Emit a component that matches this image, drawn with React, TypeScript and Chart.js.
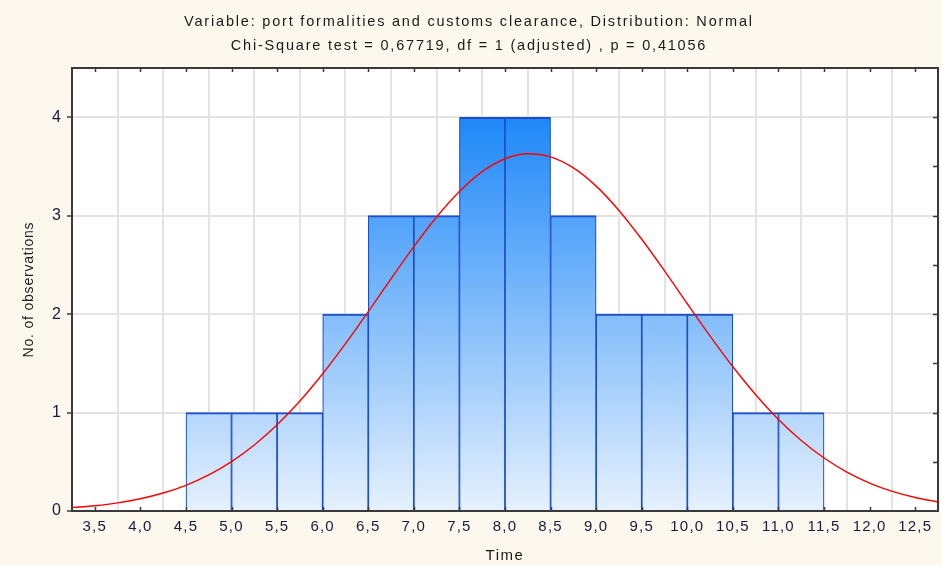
import React, { useEffect, useRef } from 'react';
import { Chart, registerables } from 'chart.js';

Chart.register(...registerables);

const titleLines = [
  'Variable: port formalities and customs clearance, Distribution: Normal',
  'Chi-Square test = 0,67719, df = 1 (adjusted) , p = 0,41056',
];
const xAxisTitle = 'Time';
const yAxisTitle = 'No. of observations';

// histogram bins (width 0.5), centres and observed counts
const binCenters = [4.75, 5.25, 5.75, 6.25, 6.75, 7.25, 7.75, 8.25, 8.75, 9.25, 9.75, 10.25, 10.75, 11.25];
const binCounts = [1, 1, 1, 2, 3, 3, 4, 4, 3, 2, 2, 2, 1, 1];

// fitted normal curve
const curveX = [3.25, 3.5, 3.75, 4.0, 4.25, 4.5, 4.75, 5.0, 5.25, 5.5, 5.75, 6.0, 6.25, 6.5, 6.75, 7.0, 7.25, 7.5, 7.75, 8.0, 8.25, 8.5, 8.75, 9.0, 9.25, 9.5, 9.75, 10.0, 10.25, 10.5, 10.75, 11.0, 11.25, 11.5, 11.75, 12.0, 12.25, 12.5, 12.75];
const curveY = [0.034, 0.054, 0.083, 0.125, 0.183, 0.261, 0.366, 0.501, 0.67, 0.875, 1.117, 1.394, 1.7, 2.026, 2.359, 2.685, 2.986, 3.245, 3.447, 3.578, 3.629, 3.598, 3.485, 3.3, 3.053, 2.76, 2.439, 2.105, 1.777, 1.465, 1.181, 0.93, 0.716, 0.538, 0.396, 0.284, 0.199, 0.137, 0.092];

const xTickValues = [3.5, 4.0, 4.5, 5.0, 5.5, 6.0, 6.5, 7.0, 7.5, 8.0, 8.5, 9.0, 9.5, 10.0, 10.5, 11.0, 11.5, 12.0, 12.5];
const yTickValues = [0, 1, 2, 3, 4];
const rightMinorTicks = [0.5, 1, 1.5, 2, 2.5, 3, 3.5, 4];

const X_MIN = 3.25;
const X_MAX = 12.75;
const Y_MIN = 0;
const Y_MAX = 4.5;

const FONT = "'Liberation Sans', Arial, sans-serif";

const framePlugin = {
  id: 'statFrame',
  beforeDraw(chart: any) {
    const { ctx, chartArea: a } = chart;
    ctx.save();
    ctx.fillStyle = '#fdf8ed';
    ctx.fillRect(0, 0, chart.width, chart.height);
    ctx.fillStyle = '#ffffff';
    ctx.fillRect(a.left, a.top, a.right - a.left, a.bottom - a.top);
    ctx.restore();
    const wrap = (obj: any, name: string, ls: string) => {
      if (!obj || obj['__w_' + name]) return;
      const orig = obj[name];
      obj[name] = function (...args: any[]) {
        ctx.save();
        ctx.letterSpacing = ls;
        orig.apply(this, args);
        ctx.restore();
      };
      obj['__w_' + name] = true;
    };
    wrap(chart.titleBlock, 'draw', '1.8px');
    wrap(chart.scales.x, 'drawLabels', '1.2px');
    wrap(chart.scales.y, 'drawLabels', '1px');
    wrap(chart.scales.x, 'drawTitle', '1.5px');
    wrap(chart.scales.y, 'drawTitle', '0.8px');
  },
  afterDraw(chart: any) {
    const { ctx, chartArea: a, scales } = chart;
    ctx.save();
    ctx.strokeStyle = '#3a3a3a';
    ctx.lineWidth = 1.5;
    ctx.beginPath();
    xTickValues.forEach((v) => {
      const px = Math.round(scales.x.getPixelForValue(v)) + 0.5;
      ctx.moveTo(px, a.top);
      ctx.lineTo(px, a.top + 4);
      ctx.moveTo(px, a.bottom);
      ctx.lineTo(px, a.bottom - 4);
    });
    rightMinorTicks.forEach((v) => {
      const py = Math.round(scales.y.getPixelForValue(v)) + 0.5;
      ctx.moveTo(a.right, py);
      ctx.lineTo(a.right - 5, py);
    });
    ctx.stroke();
    ctx.lineWidth = 2;
    ctx.strokeStyle = '#3a3a3a';
    ctx.strokeRect(a.left, a.top, a.right - a.left, a.bottom - a.top);
    ctx.restore();
  },
};

export default function App() {
  const canvasRef = useRef<HTMLCanvasElement | null>(null);

  useEffect(() => {
    document.body.style.margin = '0';
    const canvas = canvasRef.current;
    if (!canvas) return;

    const barGradient = (context: any) => {
      const chart = context.chart;
      const { chartArea, scales } = chart;
      if (!chartArea || !scales.y) return '#8cc2fa';
      const y4 = scales.y.getPixelForValue(4);
      const y0 = scales.y.getPixelForValue(0);
      const g = chart.ctx.createLinearGradient(0, y4, 0, y0);
      g.addColorStop(0, '#1e88f8');
      g.addColorStop(1, '#e6f1fd');
      return g;
    };

    const chart = new Chart(canvas, {
      type: 'bar',
      data: {
        datasets: [
          {
            type: 'line',
            label: 'Normal',
            data: curveX.map((x, i) => ({ x, y: curveY[i] })),
            borderColor: '#ff0000',
            borderWidth: 1.4,
            pointRadius: 0,
            tension: 0.4,
            cubicInterpolationMode: 'monotone',
            fill: false,
            order: 0,
          } as any,
          {
            type: 'bar',
            label: 'Observations',
            data: binCenters.map((x, i) => ({ x, y: binCounts[i] })),
            backgroundColor: barGradient,
            borderColor: '#1c4fc8',
            borderWidth: { top: 2, left: 1.2, right: 1.2, bottom: 0 },
            borderSkipped: false,
            barPercentage: 1,
            categoryPercentage: 1,
            order: 1,
          } as any,
        ],
      },
      options: {
        responsive: false,
        animation: false,
        devicePixelRatio: 1,
        layout: { padding: { left: 0, right: 3, top: 0, bottom: 0 } },
        plugins: {
          legend: { display: false },
          tooltip: { enabled: false },
          title: {
            display: true,
            text: titleLines,
            color: '#1a1a1a',
            font: { family: FONT, size: 14.5, weight: 'normal', lineHeight: '24px' },
            padding: { top: 10, bottom: 10 },
          },
        },
        scales: {
          x: {
            type: 'linear',
            min: X_MIN,
            max: X_MAX,
            offset: false,
            afterBuildTicks: (scale: any) => {
              scale.ticks = xTickValues.map((v) => ({ value: v }));
            },
            afterFit: (scale: any) => {
              scale.height = 54;
            },
            ticks: {
              autoSkip: false,
              maxRotation: 0,
              padding: 7,
              color: '#1a1a3c',
              font: { family: FONT, size: 15 },
              callback: (v: any) => Number(v).toFixed(1).replace('.', ','),
            },
            grid: {
              color: '#e3e3e3',
              lineWidth: 2,
              drawTicks: false,
            },
            border: { display: false },
            title: {
              display: true,
              text: xAxisTitle,
              color: '#1a1a1a',
              font: { family: FONT, size: 15 },
              padding: { top: 0, bottom: 0 },
            },
          },
          y: {
            type: 'linear',
            min: Y_MIN,
            max: Y_MAX,
            afterBuildTicks: (scale: any) => {
              scale.ticks = yTickValues.map((v) => ({ value: v }));
            },
            afterFit: (scale: any) => {
              scale.width = 72;
            },
            ticks: {
              padding: 5,
              color: '#1a1a3c',
              font: { family: FONT, size: 16 },
              callback: (v: any) => String(v),
            },
            grid: {
              color: '#e3e3e3',
              lineWidth: 2,
              drawTicks: true,
              tickLength: 5,
              tickColor: '#3a3a3a',
              tickWidth: 1.5,
            },
            border: { display: false },
            title: {
              display: true,
              text: yAxisTitle,
              color: '#1a1a1a',
              font: { family: FONT, size: 14 },
              padding: { top: 21, bottom: 0 },
            },
          },
        },
      } as any,
      plugins: [framePlugin],
    });

    return () => {
      chart.destroy();
    };
  }, []);

  return (
    <div style={{ position: 'fixed', left: 0, top: 0, width: 941, height: 565, background: '#fdf8ed' }}>
      <canvas ref={canvasRef} width={941} height={565} style={{ display: 'block', width: 941, height: 565 }} />
    </div>
  );
}
